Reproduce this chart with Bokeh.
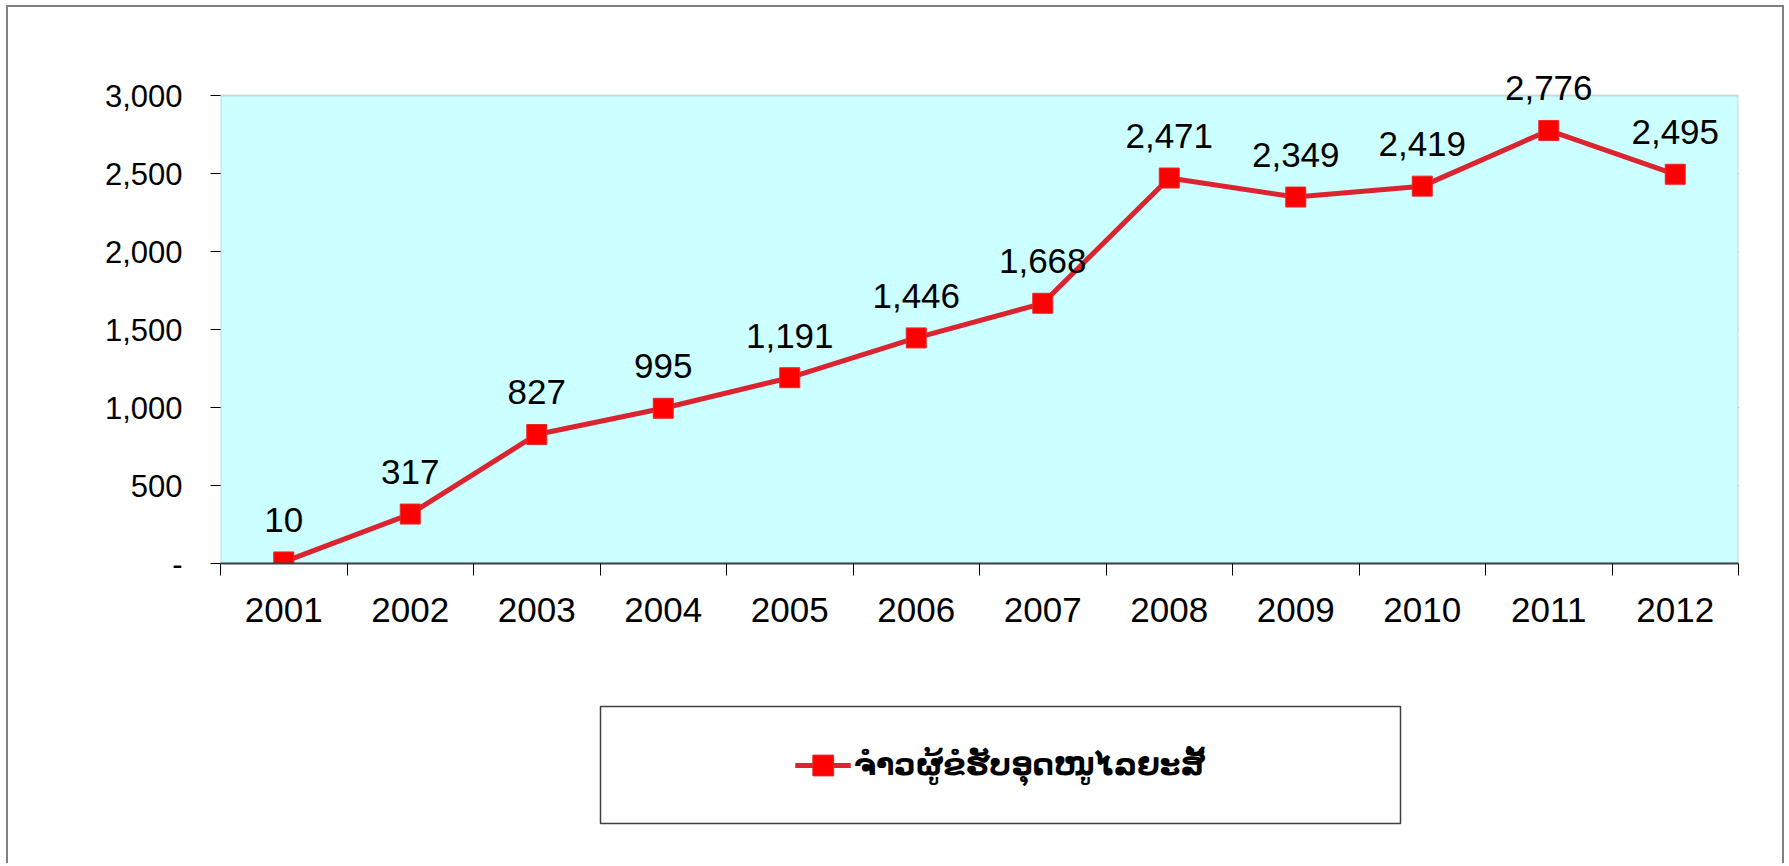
from bokeh.plotting import figure
from bokeh.layouts import column
from bokeh.models import (ColumnDataSource, FixedTicker, LabelSet, Legend,
                          LegendItem, BoxAnnotation, Range1d)
from bokeh.core.properties import value
from bokeh.embed import file_html
from bokeh.resources import INLINE

# ---- data ----
years = [2001, 2002, 2003, 2004, 2005, 2006, 2007, 2008, 2009, 2010, 2011, 2012]
values = [10, 317, 827, 995, 1191, 1446, 1668, 2471, 2349, 2419, 2776, 2495]
value_labels = ["10", "317", "827", "995", "1,191", "1,446", "1,668",
                "2,471", "2,349", "2,419", "2,776", "2,495"]
year_labels = [str(y) for y in years]
y_ticks = [0, 500, 1000, 1500, 2000, 2500, 3000]
y_tick_labels = ["-", "500", "1,000", "1,500", "2,000", "2,500", "3,000"]
series_name = "ຈຳວຜູ້ຂໍຮັບອຸດໜູໄລຍະສັ້"

FONT = "Liberation Sans"
LINE_COLOR = "#DC2330"
MARK_FILL = "#FF0000"
MARK_LINE = "#E8282E"

W = 1774
H1 = 660
H2 = 196

# plot area spans 0..3000; frame extended upward so top data labels are not cut
y_max = y_ticks[-1]
plot_px = 468.0
extra_px = 40.0
y_end = y_max * (plot_px + extra_px) / plot_px

p = figure(width=W, height=H1, output_backend="svg", toolbar_location=None,
           x_range=Range1d(years[0] - 0.5, years[-1] + 0.5),
           y_range=Range1d(0, y_end),
           min_border_left=212, min_border_right=44,
           min_border_top=48, min_border_bottom=104,
           background_fill_color="white", border_fill_color="white",
           outline_line_color=None, frame_align=False)

# cyan plot area
area = BoxAnnotation(bottom=0, top=y_max, fill_color="#CCFFFF", fill_alpha=1,
                     line_color="#808080", line_width=2, level="underlay")
p.add_layout(area)

# y axis
p.yaxis.ticker = FixedTicker(ticks=y_ticks)
p.yaxis.major_label_overrides = dict(zip(y_ticks, y_tick_labels))
p.yaxis.major_tick_in = 0
p.yaxis.major_tick_out = 10
p.yaxis.minor_tick_line_color = None
p.yaxis.major_tick_line_color = "black"
p.yaxis.axis_line_color = None
p.yaxis.major_label_text_font = FONT
p.yaxis.major_label_text_font_size = "31px"
p.yaxis.major_label_text_color = "black"
p.yaxis.major_label_standoff = 28

# x axis: labels at category centres, ticks at category boundaries
p.xaxis.ticker = FixedTicker(ticks=years,
                             minor_ticks=[y - 0.5 for y in years] + [years[-1] + 0.5])
p.xaxis.major_label_overrides = dict(zip(years, year_labels))
p.xaxis.major_tick_in = 0
p.xaxis.major_tick_out = 0
p.xaxis.minor_tick_in = 0
p.xaxis.minor_tick_out = 12
p.xaxis.minor_tick_line_color = "black"
p.xaxis.axis_line_color = "#404040"
p.xaxis.axis_line_width = 2
p.xaxis.major_label_text_font = FONT
p.xaxis.major_label_text_font_size = "35px"
p.xaxis.major_label_text_color = "black"
p.xaxis.major_label_standoff = 22

p.xgrid.visible = False
p.ygrid.ticker = FixedTicker(ticks=y_ticks[1:-1])
p.ygrid.grid_line_color = "black"
p.ygrid.grid_line_width = 1

src = ColumnDataSource(dict(x=years, y=values, label=value_labels))
p.line("x", "y", source=src, line_color=LINE_COLOR, line_width=5)
p.scatter("x", "y", source=src, marker="square", size=20,
          fill_color=MARK_FILL, line_color=MARK_LINE, line_width=1)

labels = LabelSet(x="x", y="y", text="label", source=src,
                  text_align="center", text_baseline="middle", y_offset=42,
                  text_font=value(FONT), text_font_size="35px", text_color="black")
p.add_layout(labels)

# ---- legend panel ----
q = figure(width=W, height=H2, output_backend="svg", toolbar_location=None,
           x_range=Range1d(0, 1), y_range=Range1d(0, 1),
           x_axis_type=None, y_axis_type=None,
           min_border_left=592, min_border_right=382,
           min_border_top=39, min_border_bottom=40,
           background_fill_color="white", border_fill_color="white",
           outline_line_color="#404040", outline_line_width=1.5,
           frame_align=False)
q.xgrid.visible = False
q.ygrid.visible = False
# legend sample glyphs (single point placed outside the visible range)
leg_line = q.line(x=[-5, -4], y=[-5, -5], line_color=LINE_COLOR, line_width=5)
leg_mark = q.scatter(x=[-5], y=[-5], marker="square", size=20,
                     fill_color=MARK_FILL, line_color=MARK_LINE, line_width=1)
legend = Legend(items=[LegendItem(label=series_name, renderers=[leg_line, leg_mark])],
                location="center", border_line_color=None,
                background_fill_alpha=0, padding=0, margin=0,
                glyph_width=56, glyph_height=52, label_standoff=3,
                label_text_font="DejaVu Sans", label_text_font_size="30px",
                label_text_font_style="bold", label_text_color="black")
q.add_layout(legend)

layout = column(p, q, spacing=0)
layout.styles = {"border-left": "2px solid #808080",
                 "border-top": "2px solid #808080",
                 "border-right": "2px solid #808080",
                 "margin-left": "6px", "margin-top": "5px"}

open("out.html", "w").write(file_html(layout, INLINE))
